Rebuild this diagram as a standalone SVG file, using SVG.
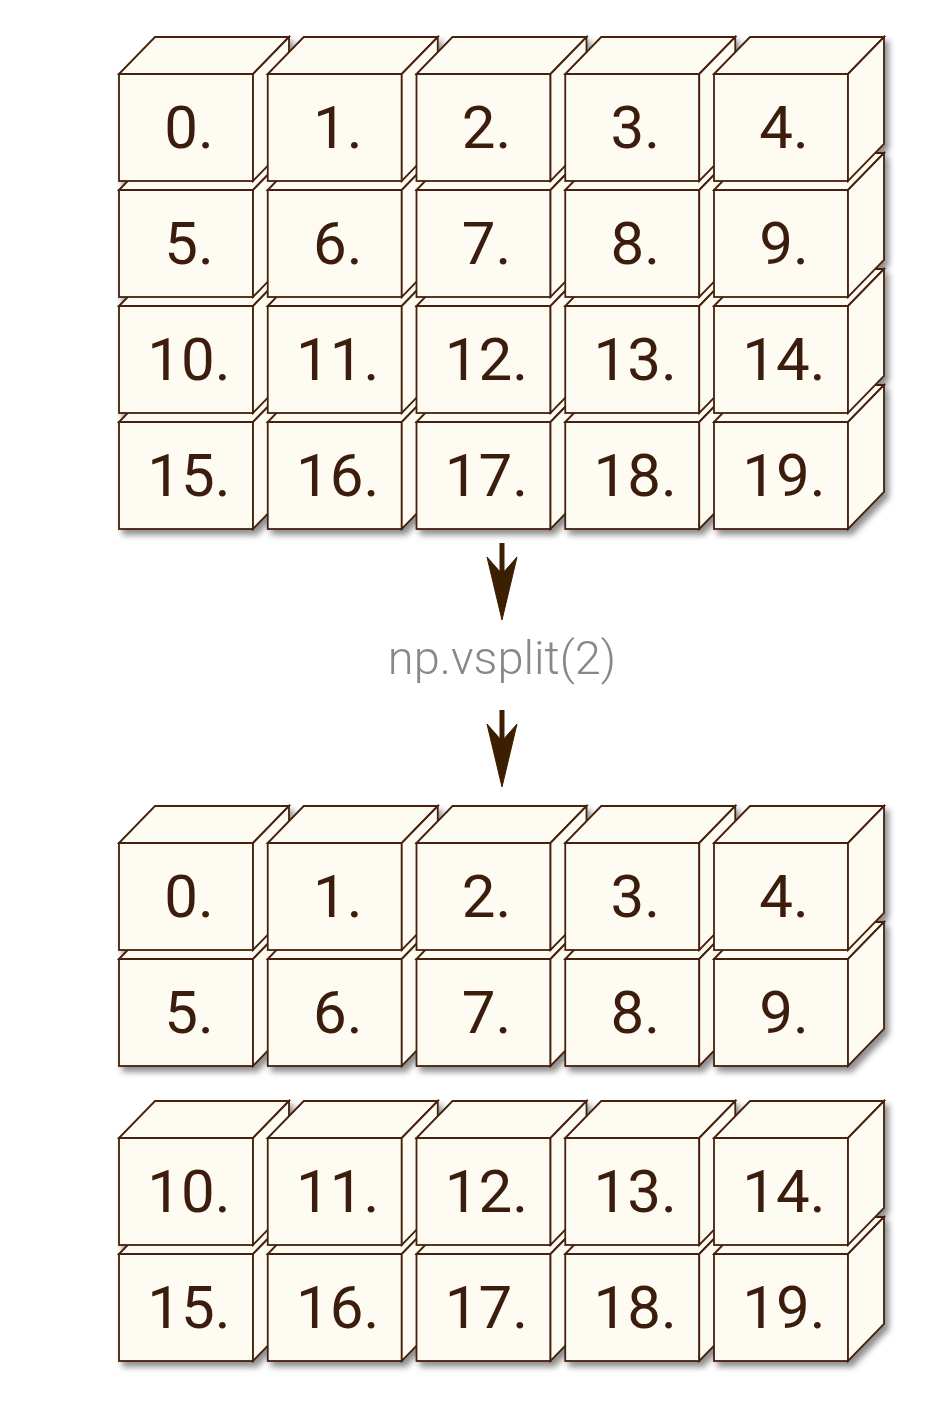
<svg xmlns="http://www.w3.org/2000/svg" xmlns:xlink="http://www.w3.org/1999/xlink" width="946" height="1402" viewBox="0 0 946 1402">
<style>
.f{fill:#FEFBF2;stroke:#45200B;stroke-width:1.8;stroke-linejoin:miter}
.t{font-family:Roboto,"Liberation Sans",sans-serif;font-weight:400;font-size:60px;fill:#3B1E0A;text-anchor:middle}
.lbl{font-family:Roboto,"Liberation Sans",sans-serif;font-weight:300;font-size:47px;fill:#888888;text-anchor:middle}
.ar{fill:#3C1E00;stroke:#3C1E00}
</style>
<defs>
<g id="cube">
<rect class="f" x="0" y="0" width="134" height="107"/>
<path class="f" d="M0,0 L36,-37 L170,-37 L134,0 Z"/>
<path class="f" d="M134,0 L170,-37 L170,70 L134,107 Z"/>
</g>
<filter id="sh" x="-5%" y="-5%" width="115%" height="115%">
<feGaussianBlur in="SourceAlpha" stdDeviation="3"/>
<feOffset dx="4" dy="5" result="b"/>
<feComponentTransfer><feFuncA type="linear" slope="0.45"/></feComponentTransfer>
<feMerge><feMergeNode/><feMergeNode in="SourceGraphic"/></feMerge>
</filter>
</defs>

<g id="array" filter="url(#sh)">
<g id="n15" transform="translate(119,422)"><use xlink:href="#cube"/><text class="t" x="70" y="74">15.</text></g>
<g id="n16" transform="translate(267.75,422)"><use xlink:href="#cube"/><text class="t" x="70" y="74">16.</text></g>
<g id="n17" transform="translate(416.5,422)"><use xlink:href="#cube"/><text class="t" x="70" y="74">17.</text></g>
<g id="n18" transform="translate(565.25,422)"><use xlink:href="#cube"/><text class="t" x="70" y="74">18.</text></g>
<g id="n19" transform="translate(714,422)"><use xlink:href="#cube"/><text class="t" x="70" y="74">19.</text></g>
<g id="n10" transform="translate(119,306)"><use xlink:href="#cube"/><text class="t" x="70" y="74">10.</text></g>
<g id="n11" transform="translate(267.75,306)"><use xlink:href="#cube"/><text class="t" x="70" y="74">11.</text></g>
<g id="n12" transform="translate(416.5,306)"><use xlink:href="#cube"/><text class="t" x="70" y="74">12.</text></g>
<g id="n13" transform="translate(565.25,306)"><use xlink:href="#cube"/><text class="t" x="70" y="74">13.</text></g>
<g id="n14" transform="translate(714,306)"><use xlink:href="#cube"/><text class="t" x="70" y="74">14.</text></g>
<g id="n5" transform="translate(119,190)"><use xlink:href="#cube"/><text class="t" x="70" y="74">5.</text></g>
<g id="n6" transform="translate(267.75,190)"><use xlink:href="#cube"/><text class="t" x="70" y="74">6.</text></g>
<g id="n7" transform="translate(416.5,190)"><use xlink:href="#cube"/><text class="t" x="70" y="74">7.</text></g>
<g id="n8" transform="translate(565.25,190)"><use xlink:href="#cube"/><text class="t" x="70" y="74">8.</text></g>
<g id="n9" transform="translate(714,190)"><use xlink:href="#cube"/><text class="t" x="70" y="74">9.</text></g>
<g id="n0" transform="translate(119,74)"><use xlink:href="#cube"/><text class="t" x="70" y="74">0.</text></g>
<g id="n1" transform="translate(267.75,74)"><use xlink:href="#cube"/><text class="t" x="70" y="74">1.</text></g>
<g id="n2" transform="translate(416.5,74)"><use xlink:href="#cube"/><text class="t" x="70" y="74">2.</text></g>
<g id="n3" transform="translate(565.25,74)"><use xlink:href="#cube"/><text class="t" x="70" y="74">3.</text></g>
<g id="n4" transform="translate(714,74)"><use xlink:href="#cube"/><text class="t" x="70" y="74">4.</text></g>
</g>

<g id="connectors">
<line class="ar" x1="502" y1="543" x2="502" y2="578" stroke-width="5"/>
<path class="ar" stroke-width="1" d="M502,620 L487,557 L502,574 L517,557 Z"/>
<line class="ar" x1="502" y1="710" x2="502" y2="745" stroke-width="5"/>
<path class="ar" stroke-width="1" d="M502,787 L487,724 L502,741 L517,724 Z"/>
</g>
<g id="label"><text class="lbl" x="502" y="674">np.vsplit(2)</text></g>

<g id="split1" filter="url(#sh)">
<g id="a5" transform="translate(119,959)"><use xlink:href="#cube"/><text class="t" x="70" y="74">5.</text></g>
<g id="a6" transform="translate(267.75,959)"><use xlink:href="#cube"/><text class="t" x="70" y="74">6.</text></g>
<g id="a7" transform="translate(416.5,959)"><use xlink:href="#cube"/><text class="t" x="70" y="74">7.</text></g>
<g id="a8" transform="translate(565.25,959)"><use xlink:href="#cube"/><text class="t" x="70" y="74">8.</text></g>
<g id="a9" transform="translate(714,959)"><use xlink:href="#cube"/><text class="t" x="70" y="74">9.</text></g>
<g id="a0" transform="translate(119,843)"><use xlink:href="#cube"/><text class="t" x="70" y="74">0.</text></g>
<g id="a1" transform="translate(267.75,843)"><use xlink:href="#cube"/><text class="t" x="70" y="74">1.</text></g>
<g id="a2" transform="translate(416.5,843)"><use xlink:href="#cube"/><text class="t" x="70" y="74">2.</text></g>
<g id="a3" transform="translate(565.25,843)"><use xlink:href="#cube"/><text class="t" x="70" y="74">3.</text></g>
<g id="a4" transform="translate(714,843)"><use xlink:href="#cube"/><text class="t" x="70" y="74">4.</text></g>
</g>

<g id="split2" filter="url(#sh)">
<g id="b15" transform="translate(119,1254)"><use xlink:href="#cube"/><text class="t" x="70" y="74">15.</text></g>
<g id="b16" transform="translate(267.75,1254)"><use xlink:href="#cube"/><text class="t" x="70" y="74">16.</text></g>
<g id="b17" transform="translate(416.5,1254)"><use xlink:href="#cube"/><text class="t" x="70" y="74">17.</text></g>
<g id="b18" transform="translate(565.25,1254)"><use xlink:href="#cube"/><text class="t" x="70" y="74">18.</text></g>
<g id="b19" transform="translate(714,1254)"><use xlink:href="#cube"/><text class="t" x="70" y="74">19.</text></g>
<g id="b10" transform="translate(119,1138)"><use xlink:href="#cube"/><text class="t" x="70" y="74">10.</text></g>
<g id="b11" transform="translate(267.75,1138)"><use xlink:href="#cube"/><text class="t" x="70" y="74">11.</text></g>
<g id="b12" transform="translate(416.5,1138)"><use xlink:href="#cube"/><text class="t" x="70" y="74">12.</text></g>
<g id="b13" transform="translate(565.25,1138)"><use xlink:href="#cube"/><text class="t" x="70" y="74">13.</text></g>
<g id="b14" transform="translate(714,1138)"><use xlink:href="#cube"/><text class="t" x="70" y="74">14.</text></g>
</g>
</svg>
